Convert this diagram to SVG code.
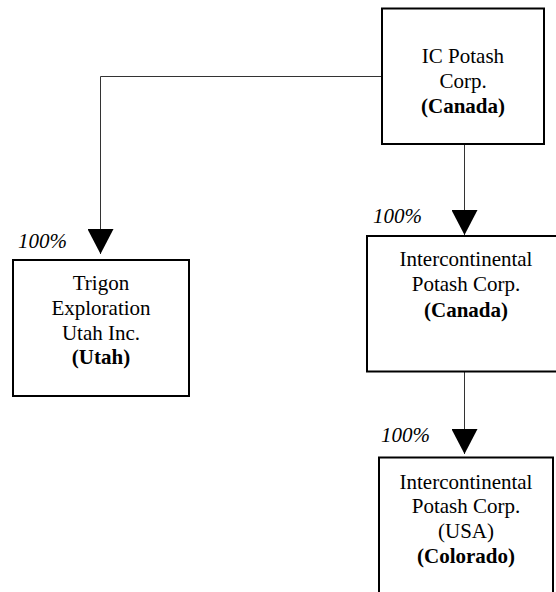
<svg xmlns="http://www.w3.org/2000/svg" width="556" height="592" viewBox="0 0 556 592">
<style>
  .box { fill: #fff; stroke: #000; stroke-width: 2; }
  .conn { fill: none; stroke: #333; stroke-width: 1; }
  text { font-family: "Liberation Serif", "Times New Roman", serif; font-size: 21px; fill: #000; text-anchor: middle; }
  .b { font-weight: bold; }
  .pct { font-style: italic; text-anchor: start; }
</style>
<defs>
  <marker id="arr" viewBox="0 0 25 26" refX="25" refY="13" markerWidth="25" markerHeight="26" markerUnits="userSpaceOnUse" orient="auto">
    <path d="M0,0 L25,13 L0,26 z" fill="#000"/>
  </marker>
</defs>
<g id="connectors">
  <path class="conn" d="M382,76.5 H100.5 V254" marker-end="url(#arr)"/>
  <path class="conn" d="M464.5,144 V235" marker-end="url(#arr)"/>
  <path class="conn" d="M464.5,372 V454" marker-end="url(#arr)"/>
  <text class="pct" x="18" y="248">100%</text>
  <text class="pct" x="373" y="223">100%</text>
  <text class="pct" x="381" y="442">100%</text>
</g>
<g id="ic-potash">
  <rect class="box" x="382" y="8.5" width="162" height="135.5"/>
  <text x="463" y="63">IC Potash</text>
  <text x="463" y="88">Corp.</text>
  <text x="463" y="113" class="b">(Canada)</text>
</g>
<g id="trigon">
  <rect class="box" x="13" y="260" width="176" height="136"/>
  <text x="101" y="290">Trigon</text>
  <text x="101" y="315">Exploration</text>
  <text x="101" y="339.5">Utah Inc.</text>
  <text x="101" y="364" class="b">(Utah)</text>
</g>
<g id="intercontinental-canada">
  <rect class="box" x="367" y="236" width="200" height="135.5"/>
  <text x="466" y="266">Intercontinental</text>
  <text x="466" y="291">Potash Corp.</text>
  <text x="466" y="316.5" class="b">(Canada)</text>
</g>
<g id="intercontinental-usa">
  <rect class="box" x="379" y="457.5" width="174" height="150"/>
  <text x="466" y="488.5">Intercontinental</text>
  <text x="466" y="513">Potash Corp.</text>
  <text x="466" y="537.5">(USA)</text>
  <text x="466" y="562.5" class="b">(Colorado)</text>
</g>
</svg>
